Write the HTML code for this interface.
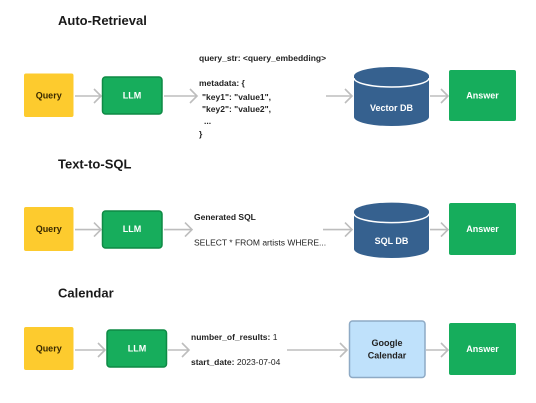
<!DOCTYPE html>
<html><head><meta charset="utf-8"><style>
html,body{margin:0;padding:0;background:#fff;}
svg{display:block;font-family:"Liberation Sans",sans-serif;}
</style></head><body>
<svg width="536" height="403" viewBox="0 0 536 403" xmlns="http://www.w3.org/2000/svg">
<g fill="#1a1a1a" font-weight="bold" font-size="13">
<text x="58" y="25">Auto-Retrieval</text>
<text x="58" y="168.5">Text-to-SQL</text>
<text x="58" y="297.5">Calendar</text>
</g>
<g stroke="#bdbdbd" stroke-width="1.6" fill="none">
<line x1="75" y1="96" x2="101" y2="96"/><path d="M94,89 L101,96 L94,103"/>
<line x1="164" y1="96" x2="197" y2="96"/><path d="M190,89 L197,96 L190,103"/>
<line x1="326" y1="96" x2="352" y2="96"/><path d="M345,89 L352,96 L345,103"/>
<line x1="430" y1="96" x2="448" y2="96"/><path d="M441,89 L448,96 L441,103"/>
<line x1="75" y1="229.6" x2="101" y2="229.6"/><path d="M94,222.6 L101,229.6 L94,236.6"/>
<line x1="164" y1="229.6" x2="192" y2="229.6"/><path d="M185,222.6 L192,229.6 L185,236.6"/>
<line x1="323" y1="229.6" x2="352" y2="229.6"/><path d="M345,222.6 L352,229.6 L345,236.6"/>
<line x1="430" y1="229.6" x2="448" y2="229.6"/><path d="M441,222.6 L448,229.6 L441,236.6"/>
<line x1="75" y1="350" x2="105" y2="350"/><path d="M98,343 L105,350 L98,357"/>
<line x1="168" y1="350" x2="189" y2="350"/><path d="M182,343 L189,350 L182,357"/>
<line x1="287" y1="350" x2="347" y2="350"/><path d="M340,343 L347,350 L340,357"/>
<line x1="426" y1="350" x2="448" y2="350"/><path d="M441,343 L448,350 L441,357"/>
</g>
<g fill="#fdcb2e">
<rect x="24" y="73.5" width="49.5" height="43.5" rx="2"/>
<rect x="24" y="207" width="49.5" height="44" rx="2"/>
<rect x="24" y="327" width="49.5" height="43" rx="2"/>
</g>
<g fill="#17ad5c" stroke="#0f8a45" stroke-width="1.5">
<rect x="102.5" y="77" width="59.5" height="37" rx="3"/>
<rect x="102.5" y="211" width="59.5" height="37" rx="3"/>
<rect x="107" y="330" width="59.5" height="37" rx="3"/>
</g>
<g fill="#16ad5c">
<rect x="449" y="70" width="67" height="51" rx="2"/>
<rect x="449" y="203" width="67" height="52" rx="2"/>
<rect x="449" y="323" width="67" height="52" rx="2"/>
</g>
<g fill="#36618f">
<path d="M354,76 L354,117 A37.5,9 0 0 0 429,117 L429,76 Z"/>
<ellipse cx="391.5" cy="76" rx="37.5" ry="9"/>
<path d="M354,211.6 L354,249 A37.5,9 0 0 0 429,249 L429,211.6 Z"/>
<ellipse cx="391.5" cy="211.6" rx="37.5" ry="9"/>
</g>
<g fill="none" stroke="#fff" stroke-width="1.5">
<path d="M354,78 A37.5,9 0 0 0 429,78"/>
<path d="M354,213.6 A37.5,9 0 0 0 429,213.6"/>
</g>
<rect x="349.5" y="321" width="75.5" height="56.5" rx="3" fill="#bfe1fb" stroke="#8eaac5" stroke-width="1.5"/>
<g font-size="9" font-weight="bold" text-anchor="middle">
<g fill="#3a2a00">
<text x="48.7" y="98.5">Query</text>
<text x="48.7" y="232">Query</text>
<text x="48.7" y="351.5">Query</text>
</g>
<g fill="#fff">
<text x="132" y="98.5">LLM</text>
<text x="132" y="232">LLM</text>
<text x="137" y="351.5">LLM</text>
<text x="482.5" y="98.5">Answer</text>
<text x="482.5" y="232">Answer</text>
<text x="482.5" y="352">Answer</text>
<text x="391.5" y="111">Vector DB</text>
<text x="391.5" y="244">SQL DB</text>
</g>
<g fill="#222">
<text x="387" y="346">Google</text>
<text x="387" y="358.5">Calendar</text>
</g>
</g>
<g font-size="8.5" fill="#222">
<text x="199" y="61" font-weight="bold">query_str: &lt;query_embedding&gt;</text>
<text x="199" y="86" font-weight="bold">metadata: {</text>
<text x="202" y="100" font-weight="bold">"key1": "value1",</text>
<text x="202" y="112" font-weight="bold">"key2": "value2",</text>
<text x="204" y="124" font-weight="bold">...</text>
<text x="199" y="137" font-weight="bold">}</text>
<text x="194" y="220" font-weight="bold">Generated SQL</text>
<text x="194" y="245.5">SELECT * FROM artists WHERE...</text>
<text x="191" y="340"><tspan font-weight="bold">number_of_results:</tspan> 1</text>
<text x="191" y="365"><tspan font-weight="bold">start_date:</tspan> 2023-07-04</text>
</g>
</svg>
</body></html>
